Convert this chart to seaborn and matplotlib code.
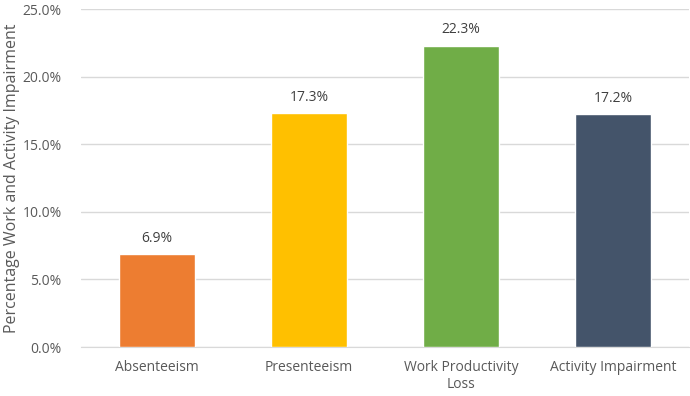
import matplotlib
matplotlib.use("Agg")
import matplotlib.pyplot as plt
import seaborn as sns
import pandas as pd
from matplotlib.ticker import FuncFormatter

# --- Data ---
categories = ["Absenteeism", "Presenteeism", "Work Productivity\nLoss", "Activity Impairment"]
values = [6.9, 17.3, 22.3, 17.2]
bar_colors = ["#ED7D31", "#FFC000", "#70AD47", "#44546A"]
y_ticks = [0, 5, 10, 15, 20, 25]

df = pd.DataFrame({"category": categories, "value": values})

sns.set_style("white")
plt.rcParams["font.family"] = ["Open Sans", "DejaVu Sans"]
text_color = "#595959"

fig = plt.figure(figsize=(6.9, 3.96), dpi=100)
ax = fig.add_axes([0.1174, 0.1237, 0.8812, 0.8535])

sns.barplot(data=df, x="category", y="value", hue="category",
            palette=bar_colors, width=0.5, legend=False, ax=ax,
            saturation=1, zorder=3)

# data labels above bars
for i, v in enumerate(values):
    ax.text(i, v + 0.6, f"{v:.1f}%", ha="center", va="bottom",
            fontsize=10, color="#404040")

ax.set_ylim(0, 25)
ax.set_xlim(-0.5, len(categories) - 0.5)
ax.set_yticks(y_ticks)
ax.yaxis.set_major_formatter(FuncFormatter(lambda v, p: f"{v:.1f}%"))
ax.grid(axis="y", color="#D9D9D9", linewidth=1, zorder=0)
for side in ["top", "right", "left"]:
    ax.spines[side].set_visible(False)
ax.spines["bottom"].set_color("#D9D9D9")
ax.tick_params(axis="both", length=0, labelsize=10, colors=text_color)
ax.tick_params(axis="y", pad=14)
ax.tick_params(axis="x", pad=9)
ax.set_xlabel("")
ax.set_ylabel("Percentage Work and Activity Impairment", fontsize=11.5,
              color=text_color, labelpad=2)

fig.savefig("out.png", dpi=100)
